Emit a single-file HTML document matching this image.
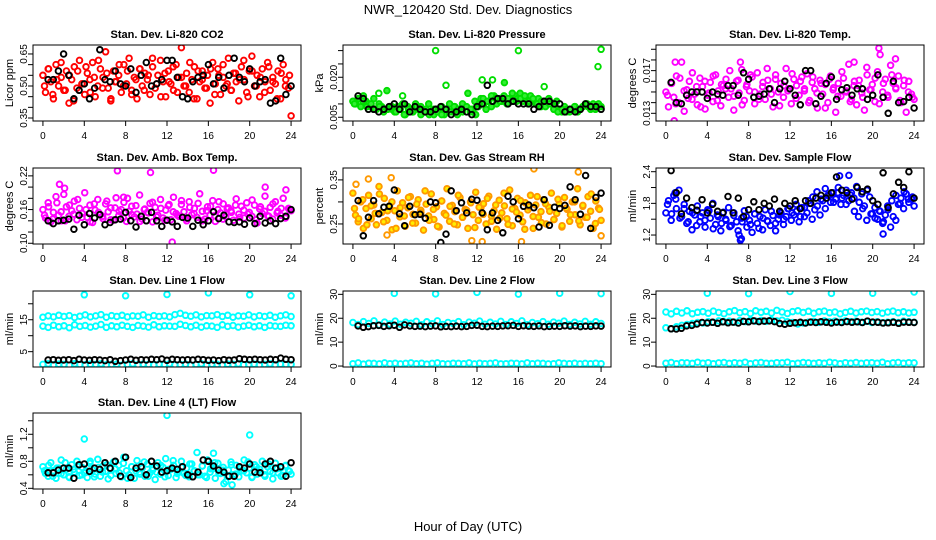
<!DOCTYPE html>
<html><head><meta charset="utf-8"><style>
html,body{margin:0;padding:0;background:#fff;}
svg{display:block;font-family:"Liberation Sans",Arial,sans-serif;}
</style></head><body>
<svg id="chart" width="936" height="540" viewBox="0 0 936 540" xmlns="http://www.w3.org/2000/svg">
<rect x="0" y="0" width="936" height="540" fill="#fff"/>
<text x="468" y="14" text-anchor="middle" font-size="13">NWR_120420  Std. Dev. Diagnostics</text>
<text x="468" y="531" text-anchor="middle" font-size="13">Hour of Day (UTC)</text>
</svg>
<script>
const xTicks = [0,4,8,12,16,20,24];

const co2Cloud = [0.55,0.47,0.58,0.52,0.44,0.60,0.50,0.54,0.48,0.57,0.42,0.53,0.59,0.49,0.62,0.51,0.46,0.56,0.53,0.61,0.45,0.50,0.58,0.54,0.66,0.49,0.43,0.57,0.52,0.55,0.47,0.60,0.51,0.63,0.48,0.54,0.44,0.58,0.50,0.56,0.53,0.46,0.59,0.49,0.55,0.62,0.52,0.45,0.57,0.51,0.48,0.60,0.54,0.68,0.50,0.56,0.47,0.53,0.59,0.44,0.52,0.57,0.49,0.55,0.42,0.61,0.51,0.58,0.46,0.54,0.50,0.63,0.48,0.56,0.52,0.43,0.59,0.53,0.47,0.57,0.64,0.50,0.55,0.45,0.58,0.52,0.61,0.48,0.54,0.51,0.57,0.44,0.60,0.53,0.49,0.36];
const co2CloudB = [0.50,0.58,0.46,0.53,0.61,0.48,0.55,0.43,0.57,0.51,0.59,0.47,0.54,0.62,0.49,0.56,0.44,0.52,0.60,0.50,0.57,0.46,0.53,0.58,0.48,0.55,0.63,0.51,0.45,0.56,0.52,0.59,0.47,0.54,0.50,0.61,0.44,0.57,0.53,0.49,0.58,0.46,0.55,0.60,0.51,0.48,0.56,0.53,0.62,0.45,0.57,0.50,0.54,0.47,0.59,0.52,0.44,0.56,0.50,0.55];
const co2Black = [0.53,0.53,0.57,0.65,0.55,0.44,0.48,0.51,0.44,0.49,0.67,0.53,0.52,0.57,0.51,0.50,0.58,0.47,0.55,0.61,0.50,0.51,0.53,0.62,0.62,0.54,0.45,0.44,0.52,0.54,0.55,0.60,0.51,0.54,0.49,0.55,0.63,0.54,0.52,0.58,0.50,0.52,0.53,0.42,0.43,0.63,0.46,0.50];

const presCloud = [0.011,0.010,0.012,0.009,0.013,0.011,0.010,0.009,0.012,0.008,0.010,0.009,0.008,0.015,0.009,0.008,0.007,0.009,0.008,0.010,0.006,0.009,0.008,0.007,0.010,0.008,0.009,0.007,0.008,0.010,0.007,0.006,0.008,0.007,0.009,0.006,0.008,0.010,0.007,0.009,0.006,0.008,0.007,0.009,0.014,0.007,0.008,0.006,0.009,0.012,0.010,0.008,0.011,0.009,0.013,0.010,0.012,0.011,0.018,0.010,0.012,0.011,0.013,0.012,0.014,0.011,0.012,0.010,0.013,0.011,0.010,0.012,0.009,0.011,0.010,0.012,0.010,0.009,0.011,0.008,0.007,0.009,0.008,0.007,0.008,0.009,0.007,0.008,0.009,0.010,0.009,0.008,0.010,0.009,0.010,0.009];
const presCloudB = [0.010,0.012,0.011,0.009,0.010,0.008,0.009,0.007,0.008,0.009,0.007,0.008,0.006,0.008,0.007,0.009,0.006,0.007,0.006,0.008,0.007,0.006,0.008,0.007,0.009,0.008,0.010,0.009,0.008,0.011,0.010,0.012,0.011,0.013,0.012,0.011,0.013,0.012,0.014,0.011,0.012,0.013,0.011,0.012,0.010,0.011,0.009,0.010,0.008,0.007,0.008,0.007,0.008,0.009,0.008,0.009,0.010,0.009,0.008,0.009];
const presExtraX = [8,16,24,23.7,12.5,13.5,9,18.5,2.5,4.8];
const presExtraY = [0.030,0.030,0.0305,0.024,0.019,0.019,0.017,0.0165,0.014,0.013];
const presBlack = [0.013,0.012,0.008,0.008,0.007,0.008,0.009,0.010,0.008,0.010,0.007,0.009,0.008,0.007,0.007,0.008,0.009,0.008,0.006,0.007,0.008,0.007,0.006,0.009,0.010,0.017,0.011,0.012,0.012,0.010,0.011,0.010,0.010,0.010,0.008,0.009,0.011,0.011,0.010,0.010,0.007,0.008,0.007,0.008,0.010,0.009,0.009,0.008];

const tempCloud = [0.0150,0.0136,0.0158,0.0145,0.0165,0.0140,0.0178,0.0132,0.0152,0.0160,0.0143,0.0148,0.0138,0.0163,0.0155,0.0134,0.0147,0.0159,0.0141,0.0166,0.0151,0.0137,0.0156,0.0162,0.0145,0.0153,0.0133,0.0160,0.0149,0.0171,0.0142,0.0157,0.0151,0.0164,0.0139,0.0168,0.0148,0.0155,0.0143,0.0161,0.0153,0.0136,0.0166,0.0150,0.0158,0.0145,0.0172,0.0153,0.0139,0.0162,0.0156,0.0147,0.0164,0.0151,0.0167,0.0142,0.0159,0.0153,0.0135,0.0161,0.0148,0.0157,0.0140,0.0165,0.0152,0.0131,0.0158,0.0146,0.0163,0.0150,0.0176,0.0143,0.0156,0.0138,0.0161,0.0149,0.0133,0.0166,0.0152,0.0157,0.0141,0.0169,0.0185,0.0150,0.0162,0.0145,0.0175,0.0158,0.0153,0.0165,0.0140,0.0156,0.0131,0.0160,0.0148,0.0143];
const tempCloudB = [0.0147,0.0158,0.0139,0.0163,0.0151,0.0144,0.0168,0.0155,0.0136,0.0160,0.0149,0.0165,0.0142,0.0157,0.0153,0.0170,0.0146,0.0161,0.0138,0.0155,0.0166,0.0150,0.0143,0.0159,0.0172,0.0148,0.0162,0.0137,0.0156,0.0151,0.0167,0.0144,0.0160,0.0153,0.0140,0.0164,0.0149,0.0158,0.0135,0.0162,0.0154,0.0146,0.0169,0.0151,0.0141,0.0160,0.0156,0.0145,0.0173,0.0152,0.0163,0.0139,0.0158,0.0147,0.0166,0.0154,0.0142,0.0161,0.0150,0.0145];
const tempExtraX = [0.8,0.9,20.6,22.2,18.2,7.2];
const tempExtraY = [0.0123,0.0178,0.0191,0.0181,0.0178,0.0178];
const tempBlack = [0.0159,0.0140,0.0139,0.0147,0.0150,0.0150,0.0150,0.0144,0.0150,0.0148,0.0147,0.0156,0.0156,0.0147,0.0168,0.0162,0.0145,0.0146,0.0148,0.0153,0.0140,0.0153,0.0160,0.0153,0.0147,0.0138,0.0170,0.0170,0.0139,0.0146,0.0158,0.0164,0.0143,0.0152,0.0154,0.0147,0.0153,0.0153,0.0143,0.0147,0.0166,0.0145,0.0130,0.0160,0.0140,0.0141,0.0145,0.0135];

const ambCloud = [0.160,0.145,0.172,0.138,0.155,0.183,0.150,0.140,0.187,0.165,0.148,0.158,0.175,0.142,0.162,0.153,0.190,0.146,0.168,0.137,0.159,0.178,0.151,0.144,0.170,0.156,0.163,0.141,0.181,0.149,0.160,0.173,0.139,0.157,0.166,0.147,0.152,0.186,0.143,0.161,0.155,0.171,0.138,0.164,0.150,0.178,0.145,0.159,0.167,0.142,0.182,0.153,0.148,0.169,0.156,0.140,0.174,0.151,0.162,0.146,0.188,0.157,0.143,0.165,0.150,0.176,0.139,0.160,0.154,0.170,0.147,0.163,0.158,0.141,0.179,0.152,0.166,0.145,0.172,0.155,0.148,0.168,0.136,0.161,0.153,0.184,0.149,0.164,0.143,0.174,0.157,0.150,0.180,0.146,0.162,0.158];
const ambCloudB = [0.150,0.165,0.143,0.172,0.156,0.140,0.168,0.152,0.178,0.146,0.160,0.138,0.170,0.155,0.148,0.175,0.142,0.163,0.157,0.145,0.180,0.151,0.167,0.139,0.160,0.154,0.173,0.147,0.162,0.141,0.169,0.156,0.150,0.176,0.144,0.164,0.153,0.171,0.140,0.158,0.166,0.149,0.174,0.143,0.161,0.155,0.168,0.146,0.159,0.152,0.177,0.142,0.165,0.157,0.148,0.170,0.154,0.162,0.145,0.160];
const ambExtraX = [7.2,10.4,21.5,2.1,7.8,16.5,23.5,12.5,1.6];
const ambExtraY = [0.229,0.226,0.200,0.198,0.182,0.230,0.195,0.102,0.205];
const ambBlack = [0.140,0.135,0.140,0.141,0.143,0.125,0.150,0.133,0.153,0.145,0.151,0.133,0.137,0.142,0.143,0.155,0.140,0.129,0.148,0.140,0.155,0.140,0.130,0.141,0.138,0.130,0.146,0.145,0.130,0.141,0.133,0.140,0.156,0.144,0.150,0.138,0.137,0.138,0.134,0.145,0.135,0.148,0.136,0.140,0.135,0.144,0.148,0.160];

const rhCloud = [0.320,0.270,0.255,0.300,0.240,0.285,0.315,0.262,0.293,0.248,0.335,0.276,0.308,0.258,0.290,0.237,0.280,0.325,0.266,0.298,0.245,0.287,0.312,0.272,0.252,0.305,0.281,0.236,0.295,0.268,0.318,0.260,0.289,0.243,0.302,0.274,0.330,0.256,0.292,0.278,0.248,0.310,0.265,0.283,0.240,0.300,0.271,0.322,0.258,0.287,0.296,0.250,0.313,0.268,0.280,0.238,0.304,0.275,0.291,0.262,0.327,0.246,0.285,0.308,0.270,0.255,0.298,0.282,0.315,0.240,0.293,0.265,0.278,0.305,0.250,0.288,0.320,0.260,0.274,0.296,0.243,0.310,0.283,0.256,0.300,0.271,0.330,0.248,0.290,0.265,0.312,0.279,0.240,0.302,0.286,0.258];
const rhCloudB = [0.285,0.262,0.305,0.248,0.291,0.274,0.318,0.255,0.280,0.300,0.240,0.287,0.268,0.310,0.252,0.295,0.276,0.325,0.258,0.283,0.245,0.302,0.270,0.290,0.250,0.315,0.265,0.281,0.298,0.242,0.288,0.272,0.308,0.256,0.293,0.263,0.320,0.249,0.284,0.277,0.303,0.238,0.289,0.267,0.312,0.253,0.296,0.279,0.260,0.306,0.246,0.286,0.271,0.300,0.257,0.292,0.265,0.318,0.251,0.283];
const rhExtraX = [1.5,3.7,21.8,17.5,3.3,24,12.5,11.5,16.3,0.3];
const rhExtraY = [0.352,0.355,0.368,0.375,0.225,0.223,0.210,0.212,0.210,0.340];
const rhBlack = [0.303,0.223,0.265,0.303,0.273,0.288,0.290,0.327,0.273,0.246,0.290,0.271,0.272,0.263,0.300,0.298,0.208,0.227,0.325,0.280,0.298,0.275,0.306,0.304,0.275,0.237,0.275,0.258,0.230,0.313,0.300,0.262,0.290,0.293,0.287,0.243,0.305,0.247,0.288,0.285,0.292,0.334,0.305,0.272,0.360,0.240,0.310,0.320];

const flowCloud = [1.62,1.85,1.48,1.95,1.70,2.05,1.55,1.78,1.42,1.65,1.30,1.58,1.75,1.45,1.62,1.35,1.68,1.52,1.80,1.40,1.55,1.28,1.63,1.48,1.72,1.38,1.57,1.45,1.20,1.52,1.66,1.35,1.48,1.25,1.60,1.42,1.55,1.30,1.68,1.46,1.38,1.57,1.28,1.50,1.62,1.40,1.55,1.70,1.48,1.58,1.65,1.45,1.72,1.55,1.62,1.80,1.50,1.68,1.75,1.58,1.85,1.70,1.95,1.82,2.00,1.88,2.10,1.78,1.95,2.05,1.85,2.00,1.90,2.12,1.82,1.98,1.75,2.05,1.92,1.60,1.72,1.50,1.65,1.42,1.58,1.68,1.35,1.55,1.48,1.78,1.90,1.70,1.98,1.82,1.88,1.75];
const flowCloudB = [1.78,1.60,1.88,1.52,1.70,1.45,1.62,1.38,1.55,1.48,1.66,1.32,1.58,1.42,1.50,1.36,1.62,1.28,1.45,1.55,1.40,1.60,1.33,1.52,1.47,1.65,1.42,1.58,1.50,1.70,1.62,1.78,1.55,1.72,1.85,1.92,2.02,1.88,2.08,1.95,1.82,2.00,1.90,1.78,1.96,1.65,1.55,1.70,1.48,1.60,1.52,1.66,1.45,1.75,1.85,1.95,1.80,2.02,1.88,1.92];
const flowExtraX = [17.7,16.8,7.3,7.2,0.9,21];
const flowExtraY = [2.33,2.32,1.13,1.10,2.00,1.22];
const flowBlack = [2.42,2.00,1.60,1.90,1.72,1.67,1.87,1.62,1.78,1.65,1.62,1.93,1.62,1.90,1.55,1.68,1.83,1.68,1.80,1.75,1.88,1.65,1.80,1.75,1.85,1.70,1.85,1.80,1.90,1.95,1.90,2.00,2.30,2.05,2.00,1.88,2.10,2.02,2.07,1.85,1.78,2.38,1.72,1.98,2.20,2.10,2.40,1.90];

const outlierHours = [4,8,12,16,20,24];
const l1Upper = [15.8,16.2,15.9,16.4,16.0,16.3,15.7,16.1,16.5,15.9,16.2,16.6,15.8,16.3,16.0,16.4,15.9,16.2,16.1,16.5,15.8,16.3,16.0,16.2,15.9,16.6,17.0,16.4,16.1,16.5,15.9,16.3,16.2,16.6,16.0,16.4,15.8,16.2,16.1,16.5,15.9,16.3,16.0,16.4,15.8,16.2,16.5,16.0];
const l1Lower = [13.0,12.6,13.3,12.8,13.1,12.5,13.4,12.9,13.2,12.7,13.0,13.5,12.6,13.1,12.8,13.3,12.9,12.6,13.2,13.0,12.7,13.4,12.8,13.1,13.0,12.9,13.6,13.2,12.8,13.3,12.7,13.1,13.0,12.6,13.4,12.9,13.2,12.7,13.0,13.3,12.8,13.1,12.6,13.2,13.0,12.9,13.3,13.1];
const l1Low = [1.0,1.2,0.9,1.1,1.0,0.8,1.2,1.0,0.9,1.1,1.0,1.2,0.9,1.0,1.1,0.8,1.0,1.2,0.9,1.1,1.0,0.9,1.1,1.0,1.2,0.9,1.0,1.1,0.8,1.0,1.2,0.9,1.1,1.0,0.9,1.1,1.0,1.2,0.9,1.0,1.1,0.9,1.0,1.2,0.9,1.1,1.0,1.0];
const l1Black = [2.4,2.5,2.3,2.4,2.5,2.2,2.6,2.4,2.3,2.5,2.4,2.2,2.5,2.0,2.2,2.4,2.6,2.3,2.5,2.4,2.6,2.5,2.7,2.3,2.6,2.5,2.4,2.5,2.4,2.6,2.5,2.3,2.4,2.2,2.5,2.3,2.4,2.8,2.6,2.5,2.6,2.5,2.4,2.6,2.5,3.0,2.6,2.5];
const l1Out = [22.8,22.5,22.9,23.4,22.8,22.5];

const l2Band = [18.2,17.4,18.6,17.8,18.9,17.2,18.4,17.6,18.8,17.5,18.3,17.9,18.7,17.3,18.5,17.7,18.9,17.4,18.2,17.8,18.6,17.3,18.4,17.9,18.8,17.5,18.3,17.6,18.7,17.4,18.5,17.8,18.9,17.3,18.2,17.7,18.6,17.5,18.4,17.9,18.8,17.4,18.3,17.6,18.7,17.5,18.5,17.8];
const l2Low = [1.0,1.3,0.8,1.2,1.1,0.9,1.3,1.0,1.2,0.9,1.1,1.3,1.0,1.2,0.8,1.1,1.3,1.0,0.9,1.2,1.1,1.0,1.3,0.9,1.2,1.0,1.1,1.3,0.9,1.0,1.2,1.1,0.9,1.3,1.0,1.2,1.1,0.9,1.0,1.3,1.1,1.0,1.2,0.9,1.1,1.0,1.2,1.0];
const l2Black = [16.8,16.2,16.5,16.9,17.0,16.6,16.9,17.1,16.2,17.2,16.8,16.6,16.7,16.5,16.7,16.8,16.4,16.6,16.5,16.7,16.5,16.6,17.0,17.1,16.6,16.5,16.7,16.6,16.8,16.9,17.0,16.6,16.9,16.7,16.6,16.8,16.5,16.6,16.7,16.6,16.9,16.7,16.8,16.5,16.7,16.6,16.8,16.7];
const l2Out = [30.4,30.2,30.8,30.1,30.5,30.3];

const l3Top = [22.6,21.8,22.9,22.2,23.1,21.9,22.5,22.8,22.1,23.0,22.4,21.9,22.7,23.2,22.3,22.8,22.0,23.1,22.5,22.9,22.2,23.3,22.6,22.0,22.8,23.1,22.4,22.9,22.1,22.7,23.0,22.3,22.6,21.8,22.4,22.9,22.2,22.7,23.0,22.4,22.8,22.1,22.6,23.0,22.3,22.7,22.2,22.5];
const l3Mid = [16.0,15.6,16.4,17.0,17.4,17.8,18.2,18.0,18.6,18.3,18.9,18.5,18.8,18.4,19.0,18.6,19.2,18.8,19.1,18.7,19.3,18.9,19.2,18.5,18.2,17.6,18.0,18.4,18.7,18.3,18.9,18.5,18.8,18.4,18.9,18.6,18.8,18.3,18.7,18.2,18.5,18.1,18.4,18.6,18.2,18.8,18.5,18.3];
const l3Low = [1.2,1.5,1.0,1.4,1.3,1.1,1.6,1.2,1.4,1.0,1.3,1.5,1.1,1.4,1.2,1.6,1.0,1.3,1.5,1.2,1.1,1.4,1.3,1.6,1.0,1.2,1.5,1.3,1.1,1.4,1.2,1.6,1.3,1.0,1.4,1.2,1.5,1.1,1.3,1.4,1.2,1.6,1.0,1.3,1.5,1.2,1.4,1.3];
const l3Black = [15.6,15.5,15.8,16.8,17.0,17.6,18.2,18.0,18.3,17.9,18.5,18.1,18.4,18.0,18.7,18.5,18.9,18.6,18.8,18.9,18.6,17.8,17.5,17.9,18.1,18.3,18.0,18.4,18.2,18.5,18.3,18.0,18.4,18.2,18.6,18.3,18.5,18.2,18.8,18.4,18.3,18.0,18.1,18.3,17.9,18.4,18.3,18.2];
const l3Out = [30.5,30.3,31.2,30.4,30.5,31.0];

const l4Cloud = [0.72,0.62,0.58,0.78,0.66,0.55,0.70,0.82,0.60,0.68,0.57,0.75,0.64,0.80,0.59,0.71,0.63,0.56,0.77,0.67,0.61,0.83,0.58,0.73,0.65,0.54,0.69,0.79,0.62,0.74,0.57,0.86,0.66,0.60,0.72,0.55,0.81,0.64,0.70,0.58,0.76,0.63,0.67,0.53,0.78,0.61,0.71,0.84,0.59,0.68,0.74,0.56,0.65,0.80,0.62,0.70,0.57,0.76,0.66,0.93,0.60,0.73,0.58,0.82,0.64,0.69,0.55,0.77,0.62,0.71,0.50,0.67,0.79,0.60,0.74,0.57,0.66,0.82,0.63,0.70,0.56,0.75,0.61,0.68,0.80,0.58,0.72,0.65,0.54,0.77,0.63,0.70,0.59,0.74,0.66,0.61];
const l4CloudB = [0.66,0.74,0.58,0.70,0.62,0.78,0.56,0.68,0.73,0.60,0.66,0.80,0.57,0.71,0.64,0.75,0.59,0.69,0.63,0.77,0.55,0.72,0.66,0.61,0.79,0.58,0.70,0.64,0.74,0.57,0.68,0.81,0.62,0.71,0.59,0.76,0.65,0.60,0.73,0.56,0.69,0.78,0.63,0.67,0.58,0.75,0.61,0.70,0.66,0.79,0.57,0.72,0.64,0.60,0.76,0.63,0.69,0.58,0.73,0.65];
const l4ExtraX = [4,12,20,16.5,17.5,18.3];
const l4ExtraY = [1.13,1.48,1.19,0.92,0.47,0.45];
const l4Black = [0.63,0.63,0.67,0.70,0.70,0.55,0.75,0.76,0.65,0.70,0.68,0.78,0.70,0.80,0.58,0.86,0.56,0.70,0.72,0.60,0.80,0.73,0.64,0.66,0.70,0.68,0.72,0.60,0.57,0.64,0.82,0.80,0.73,0.67,0.64,0.58,0.58,0.72,0.70,0.76,0.64,0.63,0.76,0.80,0.70,0.72,0.58,0.78];

const svg = document.getElementById('chart');
const NS = 'http://www.w3.org/2000/svg';
function mk(tag, attrs, parent){ const e=document.createElementNS(NS,tag); for(const k in attrs) e.setAttribute(k,attrs[k]); (parent||svg).appendChild(e); return e; }
function idxHours(arr){ return arr.map((_,i)=> i*24/(arr.length-1)); }
function offHours(arr){ return arr.map((_,i)=> 0.15 + i*23.7/(arr.length-1)); }
function halfHours(arr){ return arr.map((_,i)=> 0.5*(i+1)); }

function panel(p){
  const W=268,H=76;
  const g = mk('g',{});
  
  
  const xs = v => p.left + (v+0.96)/25.92*W;
  const ys = v => p.top + H - (v-p.ymin)/(p.ymax-p.ymin)*H;
  const t = mk('text',{x:p.left+W/2,y:p.top-7,'text-anchor':'middle','font-size':'11','font-weight':'bold'},g);
  t.textContent = p.title;
  
  
  const yl = mk('text',{transform:`translate(${p.left-20},${p.top+H/2}) rotate(-90)`,'text-anchor':'middle','font-size':'11'},g);
  yl.textContent = p.ylab;
  
  
  const cid = 'c'+p.name;
  const cp = mk('clipPath',{id:cid},g);
  mk('rect',{x:p.left,y:p.top,width:W,height:H},cp);
  const pg = mk('g',{'clip-path':`url(#${cid})`},g);
  p.series.forEach(s=>{
    s.y.forEach((v,i)=>{
      const c = mk('circle',{cx:xs(s.x[i]).toFixed(1),cy:ys(v).toFixed(1),r:2.8,fill:s.fill||'none',stroke:s.color,'stroke-width':1.9},pg);
      
      
    });
  });
  const box = mk('rect',{x:p.left,y:p.top,width:W,height:H,fill:'none',stroke:'#000','stroke-width':1},g);
  
  
  xTicks.forEach(v=>{
    mk('line',{x1:xs(v),x2:xs(v),y1:p.top+H,y2:p.top+H+5,stroke:'#000'},g);
    const tl = mk('text',{x:xs(v),y:p.top+H+18,'text-anchor':'middle','font-size':'10'},g);
    tl.textContent = v;
    
    
  });
  p.yticks.forEach(v=>{
    mk('line',{x1:p.left-5,x2:p.left,y1:ys(v),y2:ys(v),stroke:'#000'},g);
  });
  p.ylabels.forEach(v=>{
    const tl = mk('text',{transform:`translate(${p.left-6},${ys(v)}) rotate(-90)`,'text-anchor':'middle','font-size':'10'},g);
    tl.textContent = v;
    
    
  });
}

const L=[33,343,656], T=[45,168,291,413];
const BLK='#000', RED='#ff0000', GRN='#00dd00', MAG='#ff00ff', BLU='#0000ff', CYA='#00ffff';

panel({name:'panel-co2',left:L[0],top:T[0],ymin:0.336,ymax:0.692,title:'Stan. Dev. Li-820 CO2',ylab:'Licor ppm',
  yticks:[0.35,0.40,0.45,0.50,0.55,0.60,0.65],ylabels:['0.35','0.50','0.65'],
  series:[{x:idxHours(co2Cloud),y:co2Cloud,color:RED},{x:offHours(co2CloudB),y:co2CloudB,color:RED},{x:halfHours(co2Black),y:co2Black,color:BLK}]});
panel({name:'panel-pressure',left:L[1],top:T[0],ymin:0.0036,ymax:0.0321,title:'Stan. Dev. Li-820 Pressure',ylab:'kPa',
  yticks:[0.005,0.010,0.015,0.020,0.025,0.030],ylabels:['0.005','0.020'],
  series:[{x:idxHours(presCloud),y:presCloud,color:GRN,fill:'#33ee33'},{x:offHours(presCloudB),y:presCloudB,color:GRN,fill:'#33ee33'},{x:presExtraX,y:presExtraY,color:GRN},{x:halfHours(presBlack),y:presBlack,color:BLK}]});
panel({name:'panel-li820-temp',left:L[2],top:T[0],ymin:0.01228,ymax:0.0194,title:'Stan. Dev. Li-820 Temp.',ylab:'degrees C',
  yticks:[0.013,0.014,0.015,0.016,0.017,0.018,0.019],ylabels:['0.013','0.017'],
  series:[{x:idxHours(tempCloud),y:tempCloud,color:MAG},{x:offHours(tempCloudB),y:tempCloudB,color:MAG},{x:tempExtraX,y:tempExtraY,color:MAG},{x:halfHours(tempBlack),y:tempBlack,color:BLK}]});
panel({name:'panel-amb-box-temp',left:L[0],top:T[1],ymin:0.0987,ymax:0.234,title:'Stan. Dev. Amb. Box Temp.',ylab:'degrees C',
  yticks:[0.10,0.12,0.14,0.16,0.18,0.20,0.22],ylabels:['0.10','0.16','0.22'],
  series:[{x:idxHours(ambCloud),y:ambCloud,color:MAG},{x:offHours(ambCloudB),y:ambCloudB,color:MAG},{x:ambExtraX,y:ambExtraY,color:MAG},{x:halfHours(ambBlack),y:ambBlack,color:BLK}]});
panel({name:'panel-gas-rh',left:L[1],top:T[1],ymin:0.2045,ymax:0.377,title:'Stan. Dev. Gas Stream RH',ylab:'percent',
  yticks:[0.25,0.30,0.35],ylabels:['0.25','0.35'],
  series:[{x:idxHours(rhCloud),y:rhCloud,color:'#ff9900',fill:'#ffee00'},{x:offHours(rhCloudB),y:rhCloudB,color:'#ff9900',fill:'#ffee00'},{x:rhExtraX,y:rhExtraY,color:'#ff9900'},{x:halfHours(rhBlack),y:rhBlack,color:BLK}]});
panel({name:'panel-sample-flow',left:L[2],top:T[1],ymin:1.03,ymax:2.47,title:'Stan. Dev. Sample Flow',ylab:'ml/min',
  yticks:[1.2,1.5,1.8,2.1,2.4],ylabels:['1.2','1.8','2.4'],
  series:[{x:idxHours(flowCloud),y:flowCloud,color:BLU},{x:offHours(flowCloudB),y:flowCloudB,color:BLU},{x:flowExtraX,y:flowExtraY,color:BLU},{x:halfHours(flowBlack),y:flowBlack,color:BLK}]});
panel({name:'panel-line1-flow',left:L[0],top:T[2],ymin:0.2,ymax:24,title:'Stan. Dev. Line 1 Flow',ylab:'ml/min',
  yticks:[5,10,15,20],ylabels:['5','15'],
  series:[{x:idxHours(l1Upper),y:l1Upper,color:CYA},{x:idxHours(l1Lower),y:l1Lower,color:CYA},{x:idxHours(l1Low),y:l1Low,color:CYA},{x:outlierHours,y:l1Out,color:CYA},{x:halfHours(l1Black),y:l1Black,color:BLK}]});
panel({name:'panel-line2-flow',left:L[1],top:T[2],ymin:-0.4,ymax:31.4,title:'Stan. Dev. Line 2 Flow',ylab:'ml/min',
  yticks:[0,10,20,30],ylabels:['0','10','20','30'],
  series:[{x:idxHours(l2Band),y:l2Band,color:CYA},{x:idxHours(l2Low),y:l2Low,color:CYA},{x:outlierHours,y:l2Out,color:CYA},{x:halfHours(l2Black),y:l2Black,color:BLK}]});
panel({name:'panel-line3-flow',left:L[2],top:T[2],ymin:-0.4,ymax:31.4,title:'Stan. Dev. Line 3 Flow',ylab:'ml/min',
  yticks:[0,10,20,30],ylabels:['0','10','20','30'],
  series:[{x:idxHours(l3Top),y:l3Top,color:CYA},{x:idxHours(l3Mid),y:l3Mid,color:CYA},{x:idxHours(l3Low),y:l3Low,color:CYA},{x:outlierHours,y:l3Out,color:CYA},{x:halfHours(l3Black),y:l3Black,color:BLK}]});
panel({name:'panel-line4-flow',left:L[0],top:T[3],ymin:0.39,ymax:1.515,title:'Stan. Dev. Line 4 (LT) Flow',ylab:'ml/min',
  yticks:[0.4,0.6,0.8,1.0,1.2,1.4],ylabels:['0.4','0.8','1.2'],
  series:[{x:idxHours(l4Cloud),y:l4Cloud,color:CYA},{x:offHours(l4CloudB),y:l4CloudB,color:CYA},{x:l4ExtraX,y:l4ExtraY,color:CYA},{x:halfHours(l4Black),y:l4Black,color:BLK}]});
</script>
</body></html>
